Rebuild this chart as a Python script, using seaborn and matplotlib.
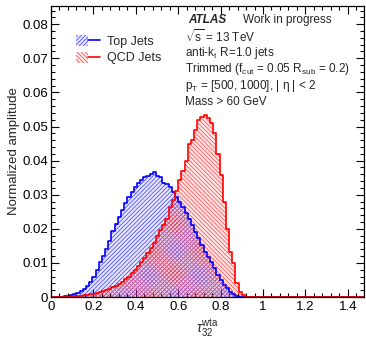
import numpy as np
import pandas as pd
import matplotlib
matplotlib.use("Agg")
import matplotlib.pyplot as plt
import seaborn as sns
from matplotlib.patches import Patch
from matplotlib.lines import Line2D
from matplotlib.legend_handler import HandlerTuple
from matplotlib.ticker import MultipleLocator, FuncFormatter

# ---------------- data ----------------
bin_lo = 0.0
bin_hi = 1.5
n_bins = 100

top_jets = [
    0, 0, 0.0001, 0.0001, 0.0002, 0.0004, 0.0006, 0.0009, 0.0012, 0.0018,
    0.0024, 0.0032, 0.0045, 0.006, 0.0078, 0.0103, 0.012, 0.014, 0.0165, 0.0195,
    0.0215, 0.0235, 0.0255, 0.0275, 0.0293, 0.0308, 0.0322, 0.0335, 0.0343, 0.0352,
    0.0356, 0.0362, 0.0366, 0.0356, 0.0353, 0.0335, 0.033, 0.0323, 0.0309, 0.0294,
    0.028, 0.0265, 0.0246, 0.023, 0.021, 0.019, 0.0172, 0.0152, 0.0133, 0.0118,
    0.0104, 0.0084, 0.0065, 0.005, 0.0035, 0.0025, 0.0016, 0.0008, 0.0003, 0.0001,
] + [0] * 40

qcd_jets = [
    0, 0, 0, 0, 0, 0, 0.0001, 0.0002, 0.0003, 0.0004,
    0.0005, 0.0006, 0.0008, 0.001, 0.0012, 0.0014, 0.0017, 0.002, 0.0024, 0.0028,
    0.0033, 0.0039, 0.0045, 0.0052, 0.006, 0.007, 0.008, 0.009, 0.0102, 0.0115,
    0.0128, 0.0143, 0.0157, 0.018, 0.0196, 0.021, 0.023, 0.0265, 0.0284, 0.031,
    0.0343, 0.037, 0.040, 0.045, 0.046, 0.049, 0.052, 0.0529, 0.0534, 0.0524,
    0.051, 0.048, 0.042, 0.0358, 0.028, 0.020, 0.0133, 0.010, 0.004, 0.0016,
    0.0005, 0.0001,
] + [0] * 38

series_labels = ["Top Jets", "QCD Jets"]
x_ticks = [0, 0.2, 0.4, 0.6, 0.8, 1.0, 1.2, 1.4]
y_ticks = [0, 0.01, 0.02, 0.03, 0.04, 0.05, 0.06, 0.07, 0.08]

info_lines = [
    r"$\sqrt{\mathrm{s}}$ = 13 TeV",
    r"anti-k$_\mathrm{t}$ R=1.0 jets",
    r"Trimmed (f$_\mathrm{cut}$ = 0.05 R$_\mathrm{sub}$ = 0.2)",
    r"p$_\mathrm{T}$ = [500, 1000], | η | < 2",
    "Mass > 60 GeV",
]

# ---------------- style ----------------
sns.set_style("ticks")
plt.rcParams["font.family"] = ["Liberation Sans", "DejaVu Sans"]
plt.rcParams["mathtext.fontset"] = "custom"
plt.rcParams["mathtext.rm"] = "Liberation Sans"
plt.rcParams["mathtext.it"] = "Liberation Sans:italic"
plt.rcParams["mathtext.bf"] = "Liberation Sans:bold"
plt.rcParams["hatch.linewidth"] = 0.5

edges = list(np.linspace(bin_lo, bin_hi, n_bins + 1))
centers = [0.5 * (edges[i] + edges[i + 1]) for i in range(n_bins)]
df = pd.DataFrame({
    "x": centers + centers,
    "w": top_jets + qcd_jets,
    "sample": [series_labels[0]] * n_bins + [series_labels[1]] * n_bins,
})

W, H = 366, 338
fig = plt.figure(figsize=(W / 100, H / 100), dpi=100)
ax = fig.add_axes([51 / W, 1 - 297 / H, 313 / W, 291 / H])

line_cols = {"Top Jets": "#0000ff", "QCD Jets": "#ff0000"}
hatch_cols = {"Top Jets": "#3c3cff", "QCD Jets": "#ff4646"}
face_cols = {"Top Jets": (0.0, 0.0, 1.0, 0.10), "QCD Jets": (1.0, 0.0, 0.0, 0.10)}
hatches = {"Top Jets": "////////", "QCD Jets": "\\\\\\\\\\\\\\\\"}

# hatched fills
for lab in series_labels:
    sub = df[df["sample"] == lab]
    n_before = len(ax.collections)
    sns.histplot(data=sub, x="x", weights="w", bins=edges, element="step",
                 fill=True, stat="count", color=line_cols[lab], ax=ax, legend=False)
    for coll in ax.collections[n_before:]:
        coll.set_alpha(None)
        coll.set_facecolor(face_cols[lab])
        coll.set_edgecolor(hatch_cols[lab])
        coll.set_hatch(hatches[lab])
        coll.set_linewidth(0)

# outlines
for lab in series_labels:
    sub = df[df["sample"] == lab]
    sns.histplot(data=sub, x="x", weights="w", bins=edges, element="step",
                 fill=False, stat="count", color=line_cols[lab], ax=ax,
                 legend=False, linewidth=1.2)

ax.set_xlim(0, (364 - 51) / 212)
ax.set_ylim(0, 291 / 3410)
ax.set_xticks(x_ticks)
ax.set_yticks(y_ticks)
ax.xaxis.set_minor_locator(MultipleLocator(0.04))
ax.yaxis.set_minor_locator(MultipleLocator(0.002))
fmt = FuncFormatter(lambda v, p: "%g" % round(v, 4))
ax.xaxis.set_major_formatter(fmt)
ax.yaxis.set_major_formatter(fmt)
ax.tick_params(which="both", direction="in", top=True, right=True,
               width=0.8, labelsize=9.5, colors="black")
ax.tick_params(which="major", length=6)
ax.tick_params(which="minor", length=3)
ax.tick_params(axis="x", which="major", pad=3)
ax.tick_params(axis="y", which="major", pad=2)
for s in ax.spines.values():
    s.set_linewidth(0.9)
    s.set_color("black")

ax.set_ylabel("Normalized amplitude", fontsize=9.5)
ax.yaxis.set_label_coords((14 - 51) / 313, 0.5)
ax.set_xlabel(r"$\tau_{32}^{\mathrm{wta}}$", fontsize=10)
ax.xaxis.set_label_coords(0.5, (297 - 328) / 291)
ax.xaxis.label.set_va("center")
ax.yaxis.label.set_va("center")

# legend
handles = []
for lab in series_labels:
    p = Patch(facecolor=face_cols[lab], edgecolor=hatch_cols[lab], hatch=hatches[lab], linewidth=0)
    l = Line2D([], [], color=line_cols[lab], linewidth=1.2)
    handles.append((p, l))
leg = fig.legend(handles, series_labels, handler_map={tuple: HandlerTuple(ndivide=None, pad=0)},
                 loc="upper left", bbox_to_anchor=(76 / W, 1 - 35 / H), frameon=False,
                 fontsize=9, handlelength=1.9, handleheight=1.0, handletextpad=0.55,
                 labelspacing=0.3, borderpad=0, borderaxespad=0)

# annotation text
fs = 8.5
fig.text(188 / W, 1 - 20 / H, "ATLAS", fontsize=fs, fontweight="bold", style="italic", va="center")
fig.text(243 / W, 1 - 20 / H, "Work in progress", fontsize=fs, va="center")
ys = [37, 53, 69, 86, 102]
for t, y in zip(info_lines, ys):
    fig.text(185 / W, 1 - y / H, t, fontsize=fs, va="center")

fig.savefig("out.png", dpi=100)
